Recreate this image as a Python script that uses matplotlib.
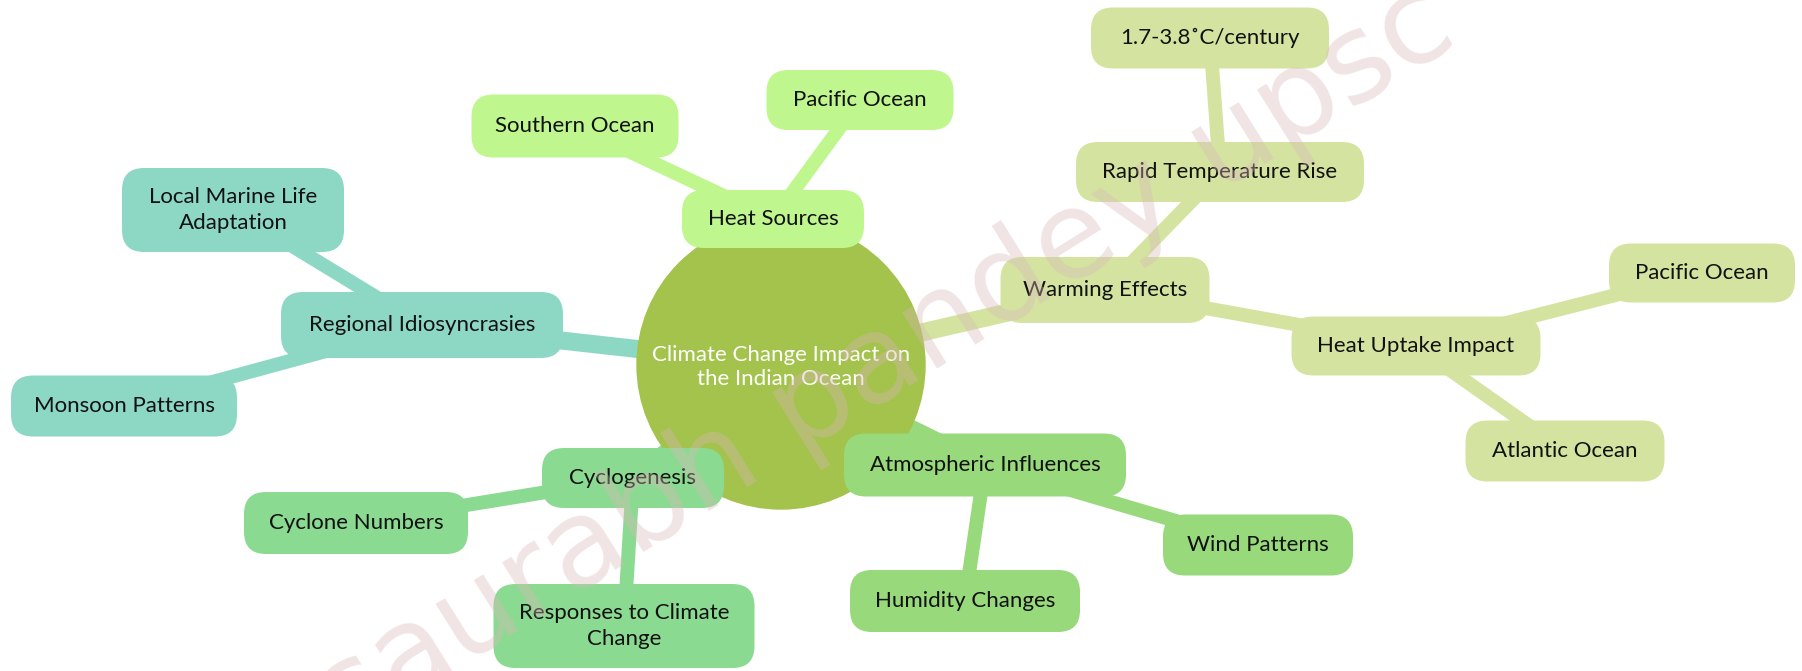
import matplotlib.pyplot as plt
from matplotlib.patches import FancyBboxPatch, Circle

plt.rcParams['font.family'] = ['Lato', 'DejaVu Sans']

# Mind map content
root_label = "Climate Change Impact on\nthe Indian Ocean"
branches = ["Heat Sources", "Warming Effects", "Atmospheric Influences",
            "Cyclogenesis", "Regional Idiosyncrasies"]
children = {
    "Heat Sources": ["Southern Ocean", "Pacific Ocean"],
    "Warming Effects": ["Rapid Temperature Rise", "Heat Uptake Impact"],
    "Rapid Temperature Rise": ["1.7-3.8˚C/century"],
    "Heat Uptake Impact": ["Pacific Ocean ", "Atlantic Ocean"],
    "Atmospheric Influences": ["Humidity Changes", "Wind Patterns"],
    "Cyclogenesis": ["Cyclone Numbers", "Responses to Climate\nChange"],
    "Regional Idiosyncrasies": ["Local Marine Life\nAdaptation", "Monsoon Patterns"],
}
branch_colors = {
    "Heat Sources": "#bff68e",
    "Warming Effects": "#d4e4a0",
    "Atmospheric Influences": "#98d97c",
    "Cyclogenesis": "#8bda91",
    "Regional Idiosyncrasies": "#8dd8c5",
}
watermark = "saurabh pandey upsc"

# layout in pixels: centre x, centre y, width, height
root_pos = (781, 365, 144)
layout = {
    "Heat Sources": (773, 219, 182, 58),
    "Southern Ocean": (575, 126, 207, 63),
    "Pacific Ocean": (860, 100, 187, 60),
    "Warming Effects": (1105, 290, 209, 66),
    "Rapid Temperature Rise": (1220, 172, 288, 60),
    "1.7-3.8˚C/century": (1210, 38, 238, 61),
    "Heat Uptake Impact": (1416, 346, 249, 59),
    "Pacific Ocean ": (1702, 273, 186, 59),
    "Atlantic Ocean": (1565, 451, 199, 61),
    "Atmospheric Influences": (985, 465, 282, 63),
    "Humidity Changes": (965, 601, 230, 62),
    "Wind Patterns": (1258, 545, 190, 61),
    "Cyclogenesis": (633, 478, 182, 60),
    "Cyclone Numbers": (356, 523, 224, 62),
    "Responses to Climate\nChange": (624, 626, 261, 84),
    "Regional Idiosyncrasies": (422, 325, 282, 66),
    "Local Marine Life\nAdaptation": (233, 210, 222, 84),
    "Monsoon Patterns": (124, 406, 226, 61),
}

W, H = 1802, 671
fig = plt.figure(figsize=(W / 100, H / 100), dpi=100)
ax = fig.add_axes([0, 0, 1, 1])
ax.set_xlim(0, W)
ax.set_ylim(H, 0)
ax.axis('off')


def branch_of(name):
    for b in branches:
        if name == b:
            return b
        stack = list(children.get(b, []))
        while stack:
            n = stack.pop()
            if n == name:
                return b
            stack += children.get(n, [])


# edges
rx, ry, rr = root_pos
for b in branches:
    x, y = layout[b][:2]
    ax.plot([rx, x], [ry, y], color=branch_colors[b], lw=13,
            solid_capstyle='round', zorder=1)
for parent, kids in children.items():
    px, py = layout[parent][:2]
    c = branch_colors[branch_of(parent)]
    for k in kids:
        x, y = layout[k][:2]
        ax.plot([px, x], [py, y], color=c, lw=10, solid_capstyle='round', zorder=1)

# root
ax.add_patch(Circle((rx, ry), rr, color='#a3c34c', zorder=2))
ax.text(rx, ry + 2, root_label, ha='center', va='center', color='white',
        fontsize=16, linespacing=1.3, zorder=5)

# nodes
for name, (x, y, w, h) in layout.items():
    c = branch_colors[branch_of(name)]
    box = FancyBboxPatch((x - w / 2, y - h / 2), w, h,
                         boxstyle="round,pad=0,rounding_size=22",
                         fc=c, ec='none', zorder=3)
    ax.add_patch(box)
    ax.text(x, y, name.strip(), ha='center', va='center', color='#111111',
            fontsize=16, linespacing=1.35, zorder=5)

# watermark
ax.text(885, 362, watermark, rotation=32, ha='center', va='center',
        fontsize=88, color='#d9b8b8', alpha=0.38, family='DejaVu Sans', zorder=6)

fig.savefig('out.png', dpi=100)
